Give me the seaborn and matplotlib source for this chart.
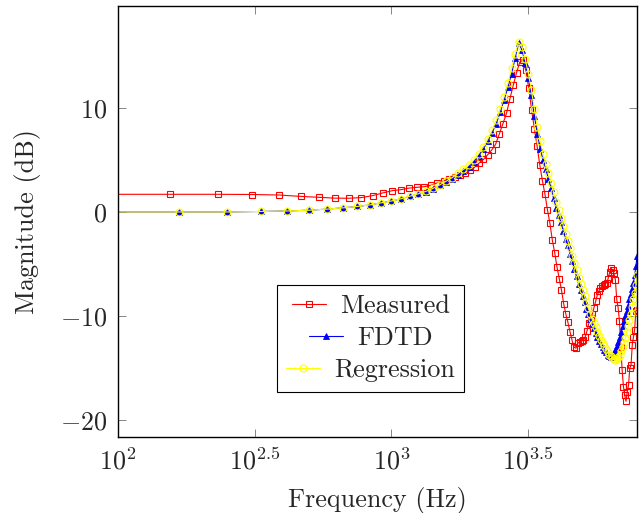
import matplotlib
matplotlib.use("Agg")
import numpy as np
import pandas as pd
import matplotlib.pyplot as plt
import seaborn as sns

# Measured response (Hz, dB)
meas_freq = [77.5, 155, 232.5, 310, 387.5, 465, 542.5, 620, 697.5, 775,
             852.5, 930, 1007.5, 1085, 1162.5, 1240, 1317.5, 1395, 1472.5, 1550,
             1627.5, 1705, 1782.5, 1860, 1937.5, 2015, 2092.5, 2170, 2247.5, 2325,
             2402.5, 2480, 2557.5, 2635, 2712.5, 2790, 2867.5, 2945, 3022.5, 3100,
             3177.5, 3255, 3332.5, 3410, 3487.5, 3565, 3642.5, 3720, 3797.5, 3875,
             3952.5, 4030, 4107.5, 4185, 4262.5, 4340, 4417.5, 4495, 4572.5, 4650,
             4727.5, 4805, 4882.5, 4960, 5037.5, 5115, 5192.5, 5270, 5347.5, 5425,
             5502.5, 5580, 5657.5, 5735, 5812.5, 5890, 5967.5, 6045, 6122.5, 6200,
             6277.5, 6355, 6432.5, 6510, 6587.5, 6665, 6742.5, 6820, 6897.5, 6975,
             7052.5, 7130, 7207.5, 7285, 7362.5, 7440, 7517.5, 7595, 7672.5, 7750,
             7827.5, 7905]
meas_db = [1.70, 1.70, 1.70, 1.68, 1.63, 1.50, 1.41, 1.33, 1.32, 1.38,
           1.57, 1.83, 2.05, 2.15, 2.30, 2.37, 2.43, 2.57, 2.80, 2.98,
           3.20, 3.40, 3.55, 3.75, 4.00, 4.30, 4.70, 5.05, 5.50, 5.95,
           6.50, 7.50, 8.50, 9.50, 10.90, 12.20, 13.40, 14.40, 14.60, 13.60,
           11.90, 9.80, 8.00, 6.30, 4.50, 3.00, 1.70, 0.20, -1.10, -2.70,
           -3.90, -5.30, -6.40, -7.50, -8.80, -9.80, -10.60, -11.50, -12.30, -13.00,
           -13.10, -12.60, -12.50, -12.40, -12.30, -12.00, -11.40, -10.70, -10.20, -9.80,
           -9.20, -8.60, -8.00, -7.60, -7.30, -7.10, -7.00, -6.90, -6.80, -6.40,
           -5.80, -5.40, -5.60, -5.90, -6.50, -8.40, -9.20, -10.50, -13.00, -15.20,
           -16.80, -17.60, -18.20, -17.30, -16.60, -15.00, -14.70, -12.80, -12.00, -11.30,
           -9.50, -9.40]

# Simulation grid (Hz), shared by FDTD and regression
sim_freq = [83.3, 166.7, 250, 333.3, 416.7, 500, 583.3, 666.7, 750, 833.3,
            916.7, 1000, 1083.3, 1166.7, 1250, 1333.3, 1416.7, 1500, 1583.3, 1666.7,
            1750, 1833.3, 1916.7, 2000, 2083.3, 2166.7, 2250, 2333.3, 2416.7, 2500,
            2583.3, 2666.7, 2750, 2833.3, 2916.7, 3000, 3083.3, 3166.7, 3250, 3333.3,
            3416.7, 3500, 3583.3, 3666.7, 3750, 3833.3, 3916.7, 4000, 4083.3, 4166.7,
            4250, 4333.3, 4416.7, 4500, 4583.3, 4666.7, 4750, 4833.3, 4916.7, 5000,
            5083.3, 5166.7, 5250, 5333.3, 5416.7, 5500, 5583.3, 5666.7, 5750, 5833.3,
            5916.7, 6000, 6083.3, 6166.7, 6250, 6333.3, 6416.7, 6500, 6583.3, 6666.7,
            6750, 6833.3, 6916.7, 7000, 7083.3, 7166.7, 7250, 7333.3, 7416.7, 7500,
            7583.3, 7666.7, 7750, 7833.3, 7916.7]
fdtd_db = [0.00, 0.00, 0.00, 0.05, 0.10, 0.17, 0.28, 0.40, 0.53, 0.68,
           0.88, 1.06, 1.26, 1.50, 1.72, 1.94, 2.22, 2.55, 2.88, 3.20,
           3.60, 3.95, 4.35, 4.85, 5.40, 6.05, 6.80, 7.60, 8.50, 9.60,
           10.80, 12.00, 13.30, 14.80, 16.20, 15.60, 14.30, 12.90, 11.20, 9.20,
           7.50, 6.10, 5.00, 4.10, 3.20, 2.30, 1.30, 0.40, -0.30, -1.00,
           -1.80, -2.60, -3.20, -4.00, -4.70, -5.50, -6.20, -6.90, -7.50, -8.10,
           -8.70, -9.30, -9.80, -10.30, -10.80, -11.20, -11.60, -12.00, -12.40, -12.70,
           -13.00, -13.30, -13.50, -13.70, -13.80, -13.90, -13.80, -13.60, -13.30, -12.90,
           -12.50, -12.00, -11.50, -11.00, -10.50, -10.00, -9.50, -9.00, -8.40, -7.90,
           -7.40, -6.80, -6.10, -5.20, -4.20]
regr_db = [0.00, 0.00, 0.00, 0.05, 0.10, 0.17, 0.28, 0.40, 0.53, 0.68,
           0.88, 1.06, 1.27, 1.51, 1.74, 1.97, 2.26, 2.60, 2.95, 3.30,
           3.70, 4.10, 4.50, 5.00, 5.60, 6.25, 7.00, 7.85, 8.80, 9.90,
           11.10, 12.40, 13.80, 15.20, 16.30, 15.90, 14.70, 13.30, 11.70, 9.90,
           8.20, 6.80, 5.60, 4.60, 3.70, 2.80, 1.90, 1.00, 0.20, -0.60,
           -1.30, -2.10, -2.80, -3.50, -4.20, -4.90, -5.60, -6.30, -6.90, -7.50,
           -8.10, -8.70, -9.20, -9.80, -10.30, -10.70, -11.10, -11.50, -11.90, -12.30,
           -12.60, -12.90, -13.20, -13.50, -13.70, -13.85, -14.00, -14.15, -14.20, -14.10,
           -13.90, -13.70, -13.40, -13.00, -12.60, -12.10, -11.50, -11.00, -10.40, -9.80,
           -9.10, -8.40, -7.80, -7.00, -6.10]

x_ticks = [10**2, 10**2.5, 10**3, 10**3.5]
x_ticklabels = [r"$10^{2}$", r"$10^{2.5}$", r"$10^{3}$", r"$10^{3.5}$"]
y_ticks = [-20, -10, 0, 10]
y_ticklabels = [r"$-20$", r"$-10$", r"$0$", r"$10$"]

meas = pd.DataFrame({"freq": meas_freq, "mag": meas_db})
sim = pd.DataFrame({"freq": sim_freq, "fdtd": fdtd_db, "regr": regr_db})

sns.set_style("ticks")
plt.rcParams["font.family"] = "serif"
plt.rcParams["font.serif"] = ["cmr10", "DejaVu Serif"]
plt.rcParams["mathtext.fontset"] = "cm"
plt.rcParams["axes.unicode_minus"] = True

fs = 18.8
fig = plt.figure(figsize=(6.43, 5.13), dpi=100)
ax = fig.add_axes([118 / 643, 1 - 437 / 513, 519 / 643, 431 / 513])

sns.lineplot(data=meas, x="freq", y="mag", ax=ax, estimator=None, sort=False,
             color="red", lw=0.8, marker="s", markersize=5,
             markerfacecolor="none", markeredgecolor="red", markeredgewidth=0.8,
             label="Measured")
sns.lineplot(data=sim, x="freq", y="fdtd", ax=ax, estimator=None, sort=False,
             color="blue", lw=0.8, marker="^", markersize=3.8,
             markerfacecolor="blue", markeredgecolor="blue", markeredgewidth=0.6,
             label="FDTD")
sns.lineplot(data=sim, x="freq", y="regr", ax=ax, estimator=None, sort=False,
             color="yellow", lw=0.8, marker="o", markersize=5,
             markerfacecolor="none", markeredgecolor="yellow", markeredgewidth=0.8,
             label="Regression")

ax.set_xscale("log")
ax.set_xlim(100, 7905)
ax.set_ylim(-21.63, 19.8)
ax.set_xticks(x_ticks)
ax.set_xticklabels(x_ticklabels)
ax.set_yticks(y_ticks)
ax.set_yticklabels(y_ticklabels)
ax.xaxis.set_minor_locator(matplotlib.ticker.NullLocator())
ax.tick_params(direction="in", length=6, width=0.6, color="0.45",
               top=True, right=True, labelsize=fs, pad=8)
for s in ax.spines.values():
    s.set_linewidth(1.0)
    s.set_color("black")

ax.set_xlabel("Frequency (Hz)", fontsize=fs, labelpad=9)
ax.set_ylabel("Magnitude (dB)", fontsize=fs, labelpad=13)

leg = ax.legend(loc="lower center", bbox_to_anchor=(0.487, 0.075), fontsize=fs,
                frameon=True, fancybox=False, framealpha=1, edgecolor="black",
                handlelength=1.3, handletextpad=0.55, labelspacing=0.32,
                borderpad=0.35, numpoints=1)
leg.get_frame().set_linewidth(0.8)
leg._legend_handle_box.get_children()[0].align = "center"

fig.savefig("out.png", dpi=100)
